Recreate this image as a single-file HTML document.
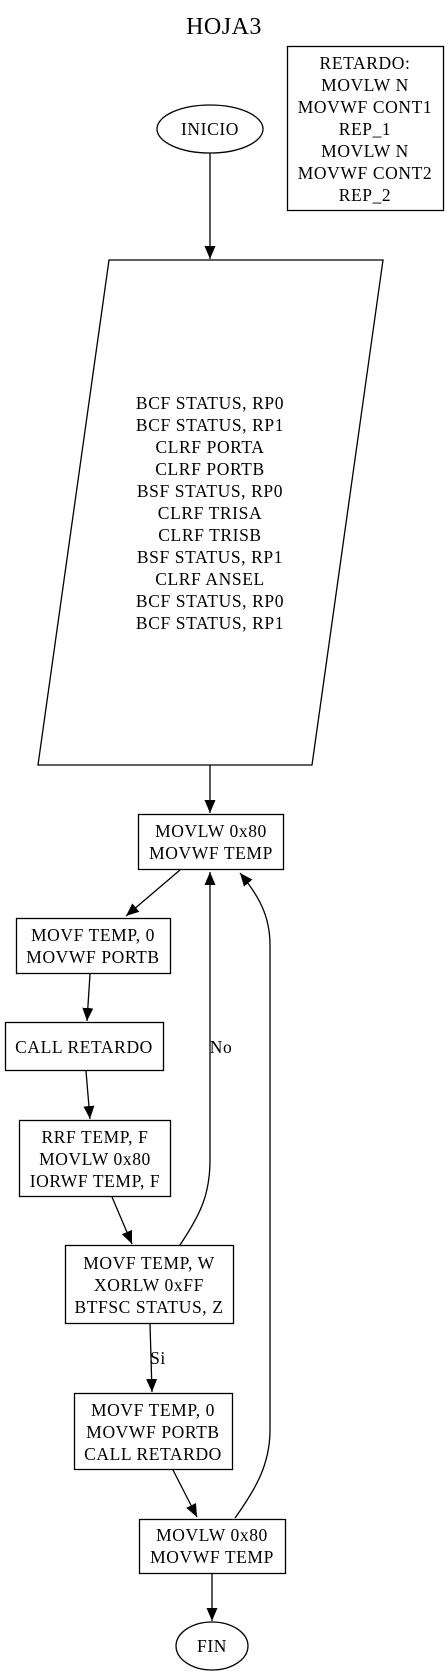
<!DOCTYPE html>
<html><head><meta charset="utf-8"><style>
html,body{margin:0;padding:0;background:#fff;}
svg{display:block;}
text{font-family:"Liberation Serif",serif;font-size:17.5px;letter-spacing:0.6px;fill:#000;stroke:none;text-anchor:middle;dominant-baseline:central;}
</style></head><body>
<svg width="448" height="1676" viewBox="0 0 448 1676" xmlns="http://www.w3.org/2000/svg">
<defs><marker id="a" markerWidth="14" markerHeight="12" refX="13" refY="6" orient="auto" markerUnits="userSpaceOnUse"><path d="M0,0.5 L13,6 L0,11.5 z" fill="#000"/></marker></defs>
<g fill="none" stroke="#000" stroke-width="1.3">
<rect x="287.5" y="46.5" width="156" height="164"/>
<ellipse cx="210" cy="129" rx="53" ry="24"/>
<line x1="210" y1="153" x2="210" y2="259" marker-end="url(#a)"/>
<polygon points="109,260 383,260 312,765 38,765"/>
<line x1="210" y1="765" x2="210" y2="813" marker-end="url(#a)"/>
<rect x="138.5" y="814.5" width="145" height="55"/>
<line x1="180" y1="870" x2="126" y2="916" marker-end="url(#a)"/>
<rect x="16.5" y="918.5" width="154" height="55"/>
<line x1="90" y1="974" x2="87" y2="1021" marker-end="url(#a)"/>
<rect x="5.5" y="1022.5" width="158" height="48"/>
<line x1="86" y1="1071" x2="90" y2="1119" marker-end="url(#a)"/>
<rect x="19.5" y="1120.5" width="151" height="76"/>
<line x1="112" y1="1197" x2="132" y2="1244" marker-end="url(#a)"/>
<rect x="65.5" y="1245.5" width="168" height="78"/>
<path d="M180,1245 C200,1215 210,1195 210,1160 L210,872" marker-end="url(#a)"/>
<line x1="150" y1="1324" x2="152" y2="1392" marker-end="url(#a)"/>
<rect x="74.5" y="1393.5" width="158" height="76"/>
<line x1="173" y1="1470" x2="197" y2="1517" marker-end="url(#a)"/>
<rect x="139.5" y="1519.5" width="146" height="54"/>
<path d="M235,1518 C255,1490 270,1465 270,1430 L270,945 C270,915 258,895 240,873" marker-end="url(#a)"/>
<line x1="212" y1="1574" x2="212" y2="1621" marker-end="url(#a)"/>
<ellipse cx="212" cy="1646" rx="36" ry="24"/>
</g>
<g>
<text x="224" y="27" style="font-size:24px;letter-spacing:0.5px">HOJA3</text>
<text x="221" y="1047">No</text>
<text x="158" y="1358">Si</text>
<text x="365" y="63">RETARDO:</text>
<text x="365" y="85">MOVLW N</text>
<text x="365" y="107">MOVWF CONT1</text>
<text x="365" y="129">REP_1</text>
<text x="365" y="151">MOVLW N</text>
<text x="365" y="173">MOVWF CONT2</text>
<text x="365" y="195">REP_2</text>
<text x="210" y="129">INICIO</text>
<text x="210" y="403">BCF STATUS, RP0</text>
<text x="210" y="425">BCF STATUS, RP1</text>
<text x="210" y="447">CLRF PORTA</text>
<text x="210" y="469">CLRF PORTB</text>
<text x="210" y="491">BSF STATUS, RP0</text>
<text x="210" y="513">CLRF TRISA</text>
<text x="210" y="535">CLRF TRISB</text>
<text x="210" y="557">BSF STATUS, RP1</text>
<text x="210" y="579">CLRF ANSEL</text>
<text x="210" y="601">BCF STATUS, RP0</text>
<text x="210" y="623">BCF STATUS, RP1</text>
<text x="211" y="831">MOVLW 0x80</text>
<text x="211" y="853">MOVWF TEMP</text>
<text x="93" y="935">MOVF TEMP, 0</text>
<text x="93" y="957">MOVWF PORTB</text>
<text x="84" y="1047">CALL RETARDO</text>
<text x="95" y="1137">RRF TEMP, F</text>
<text x="95" y="1159">MOVLW 0x80</text>
<text x="95" y="1181">IORWF TEMP, F</text>
<text x="149" y="1263">MOVF TEMP, W</text>
<text x="149" y="1285">XORLW 0xFF</text>
<text x="149" y="1307">BTFSC STATUS, Z</text>
<text x="153" y="1410">MOVF TEMP, 0</text>
<text x="153" y="1432">MOVWF PORTB</text>
<text x="153" y="1454">CALL RETARDO</text>
<text x="212" y="1535">MOVLW 0x80</text>
<text x="212" y="1557">MOVWF TEMP</text>
<text x="212" y="1646">FIN</text>
</g>
</svg>
</body></html>
